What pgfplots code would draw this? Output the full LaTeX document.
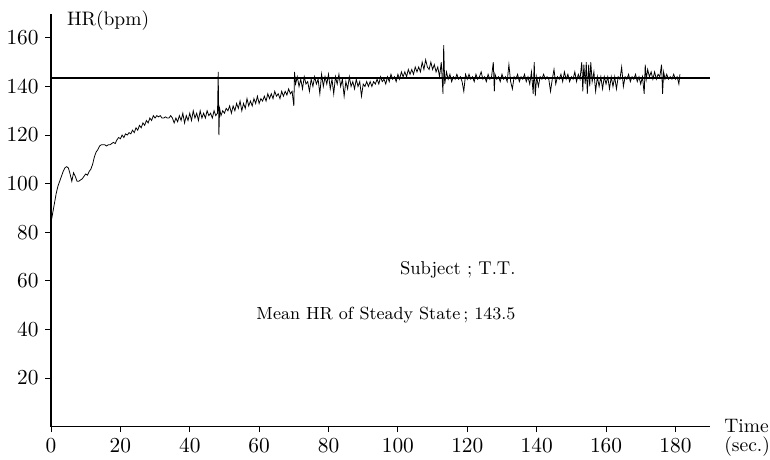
\documentclass[border=0pt]{standalone}
\usepackage{pgfplots}
\pgfplotsset{compat=1.18}
\begin{document}
\begin{tikzpicture}
\begin{axis}[
  scale only axis, width=11.87cm, height=7.44cm,
  xmin=0, xmax=190, ymin=0, ymax=170,
  axis lines=left, axis line style={-, line width=0.6pt},
  xtick={0,20,...,180}, ytick={20,40,...,160},
  tick style={black, line width=0.5pt},
  major tick length=0.1cm, tick align=outside,
  ticklabel style={font=\fontsize{10.5}{12}\selectfont},
  clip=false,
]
% steady state mean
\addplot[black, line width=0.7pt] coordinates {(0,143.5)(190,143.5)};
% heart rate trace
\addplot[black, line width=0.4pt] coordinates {
(0,84)(0.5,88)(1,92)(1.5,96)(2,99)(2.5,101)(3,103)(3.5,105)(4,106.5)(4.5,107)
(5,106.5)(5.5,104)(6,101)(6.5,104.5)(7,103)(7.5,101)(8,101)(8.5,101.5)(9,102)(9.5,103)
(10,104)(10.5,103.5)(11,105)(11.5,106)(12,108)(12.5,111)(13,113)(13.5,114)(14,115.5)(14.5,116)
(15,116)(15.5,116)(16,115.5)(16.5,116)(17,116)(17.5,116.5)(18,117)(18.5,116.5)(19,118)(19.5,119)
(20,118.5)(20.5,120)(21,119)(21.5,120.5)(22,120)(22.5,121)(23,120.5)(23.5,122)(24,121)(24.5,123)
(25,122)(25.5,124)(26,123)(26.5,125)(27,124)(27.5,126)(28,125)(28.5,127)(29,126)(29.5,128)
(30,127)(30.5,128)(31,127.5)(31.5,128)(32,127)(32.5,127)(33,127.5)(33.5,127)(34,127)(34.5,128)
(35,127)(35.5,125)(36,127)(36.5,125.5)(37,128)(37.5,126)(38,129)(38.5,125)(39,128)(39.5,126)
(40,129)(40.5,126)(41,130)(41.5,127)(42,129)(42.5,126)(43,130)(43.5,127)(44,129)(44.5,127)
(45,130)(45.5,128)(46,129)(46.5,127)(47,130)(47.5,128)(48,129)(48.2,146)(48.4,120)(48.6,131)
(49,128)(49.5,130)(50,129)(50.5,131)(51,130)(51.5,132)(52,129)(52.5,132)(53,130)(53.5,133)
(54,131)(54.5,134)(55,130)(55.5,133)(56,131)(56.5,135)(57,132)(57.5,134)(58,132)(58.5,135)
(59,133)(59.5,136)(60,133)(60.5,135)(61,134)(61.5,136)(62,134)(62.5,137)(63,135)(63.5,137)
(64,135)(64.5,138)(65,136)(65.5,137)(66,135)(66.5,138)(67,136)(67.5,138)(68,136.5)(68.5,139)
(69,137)(69.5,138)(70,132)(70.2,146)(70.5,141)(71,144)(71.5,140)(72,143)(72.5,139)(73,144)
(73.5,141)(74,142)(74.5,138)(75,143)(75.5,140)(76,144)(76.5,141)(77,143)(77.5,137)(78,145)
(78.5,140)(79,144)(79.5,141)(80,145)(80.5,139)(81,143)(81.5,137)(82,144)(82.5,141)(83,145)
(83.5,140)(84,143)(84.5,136)(85,142)(85.5,139)(86,144)(86.5,140)(87,142)(87.5,139)(88,143)
(88.5,140)(89,142)(89.5,136)(90,141)(90.5,140)(91,142)(91.5,140)(92,142)(92.5,140)(93,142)
(93.5,141)(94,143)(94.5,141)(95,144)(95.5,142)(96,143)(96.5,141)(97,144)(97.5,142)(98,145)
(98.5,143)(99,144)(99.5,142)(100,145)(100.5,143)(101,146)(101.5,144)(102,146)(102.5,144)(103,147)
(103.5,145)(104,147)(104.5,145)(105,148)(105.5,146)(106,148)(106.5,146)(107,150)(107.5,147)(108,151)
(108.5,148)(109,147)(109.5,150)(110,147)(110.5,149)(111,146)(111.5,148)(112,144)(112.5,150)(113,137)
(113.2,157)(113.5,141)(114,146)(114.5,143)(115,145)(115.5,142)(116,144)(116.5,143)(117,145)(117.5,143)
(118,144)(118.5,142)(119,138)(119.5,145)(120,143)(120.5,145)(121,143)(121.5,144)(122,142)(122.5,145)
(123,143)(123.5,144)(124,146)(124.5,143)(125,144)(125.5,142)(126,145)(126.5,143)(127,144)(127.5,150)
(127.8,138)(128,145)(128.5,143)(129,144)(129.5,142)(130,145)(130.5,143)(131,144)(131.5,142)(132,149)
(132.5,142)(133,139)(133.5,144)(134,143)(134.5,145)(135,142)(135.5,144)(136,143)(136.5,145)(137,142)
(137.5,144)(138,141)(138.5,146)(139,137)(139.3,150)(139.6,136)(140,144)(140.5,140)(141,144)(141.5,143)
(142,145)(142.5,143)(143,144)(143.5,143)(144,138)(144.5,143)(145,147)(145.5,141)(146,144)(146.5,143)
(147,145)(147.5,142)(148,146)(148.5,143)(149,145)(149.5,142)(150,144)(150.5,143)(151,146)(151.5,142)
(152,145)(152.5,143)(153,150)(153.3,138)(153.6,149)(154,141)(154.3,150)(154.6,137)(155,149)(155.3,140)
(155.6,150)(156,142)(156.5,146)(157,138)(157.5,144)(158,140)(158.5,144)(159,139)(159.5,144)(160,141)
(160.5,144)(161,139)(161.5,144)(162,140)(162.5,144)(163,139)(163.5,144)(164,143)(164.5,148)(165,140)
(165.5,144)(166,143)(166.5,145)(167,142)(167.5,144)(168,143)(168.5,145)(169,142)(169.5,144)(170,141)
(170.5,144)(171,137)(171.3,149)(171.6,143)(172,147)(172.5,144)(173,146)(173.5,143)(174,146)(174.5,143)
(175,145)(175.5,144)(176,149)(176.3,137)(176.6,146)(177,143)(177.5,145)(178,143)(178.5,144)(179,143)
(179.5,145)(180,143)(180.5,144)(181,141)(181.3,145)
};
\node[anchor=west, inner sep=0] at (axis cs:4.5,167) {HR(bpm)};
\node[anchor=east, inner sep=0, font=\fontsize{9.5}{11}\selectfont] at (axis cs:134,64.5) {Subject ; T.T.};
\node[anchor=east, inner sep=0, font=\fontsize{9}{11}\selectfont] at (axis cs:134,46) {Mean HR of Steady State\,; 143.5};
\node[anchor=west, align=left, inner sep=0, xshift=0.25cm, yshift=-0.2cm] at (axis cs:190,0) {Time\\[-2pt](sec.)};
\end{axis}
\path (current bounding box.north west) -- ++(0,0.2cm);
\end{tikzpicture}
\end{document}
